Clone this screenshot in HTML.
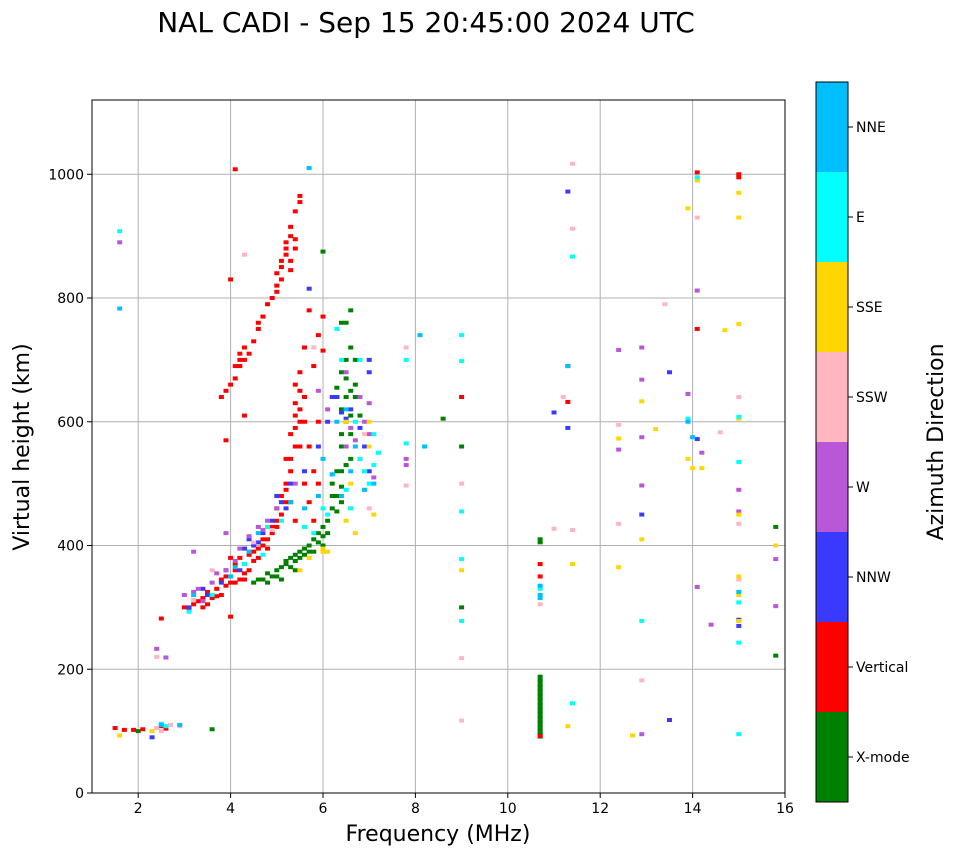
<!DOCTYPE html>
<html><head><meta charset="utf-8"><style>
body{margin:0;background:#fff;}
svg{font-family:"DejaVu Sans","Liberation Sans",sans-serif;}
</style></head><body>
<svg id="c" width="958" height="857" viewBox="0 0 958 857">
<text x="426" y="32" font-size="28" text-anchor="middle">NAL CADI - Sep 15 20:45:00 2024 UTC</text>
<g id="grid"></g>
<g id="marks"></g>
<rect x="92" y="100" width="693" height="693" fill="none" stroke="#000" stroke-width="1"/>
<g id="axes"></g>
<text x="438" y="841" font-size="22" text-anchor="middle">Frequency (MHz)</text>
<text transform="translate(29,447) rotate(-90)" font-size="22" text-anchor="middle">Virtual height (km)</text>
<g id="cbar"></g>
<text transform="translate(943,442) rotate(-90)" font-size="22" text-anchor="middle">Azimuth Direction</text>
</svg>
<script>
const xTicks=[2,4,6,8,10,12,14,16];
const yTicks=[0,200,400,600,800,1000];
const dirNames=["X-mode","Vertical","NNW","W","SSW","SSE","E","NNE"];
const dirColors=["#008000","#ff0000","#3a3aff","#b857d8","#ffb6c1","#ffd700","#00ffff","#00bfff"];
const xmode=[[4.5,340],[4.7,345],[4.9,350],[5.0,360],[5.2,370],[5.3,380],[5.4,385],[5.5,390],[5.6,395],[5.7,400],[5.8,410],[5.9,420],[6.0,430],[6.1,440],[6.2,460],[6.3,480],[6.4,520],[6.4,560],[6.5,600],[6.5,640],[6.6,650],[6.7,700],[6.6,780],[6.4,760],[6.2,500],[6.4,580],[6.8,610],[6.3,640],[3.6,103],[5.4,360],[5.0,350],[5.8,390],[6.0,875],[8.6,605],[9.0,560],[9.0,300],[10.7,410],[10.7,180],[10.7,172],[10.7,165],[10.7,158],[10.7,150],[10.7,143],[10.7,136],[10.7,129],[10.7,122],[10.7,115],[10.7,108],[10.7,101],[10.7,96],[10.7,188],[15.8,430],[15.8,222],[2.0,100],[4.8,355],[5.1,365],[6.5,670],[6.6,720],[6.3,655],[6.5,760],[6.7,640],[6.2,480],[6.4,470],[4.6,345],[4.8,340],[5.2,375],[5.3,365],[5.5,380],[5.6,385],[5.7,390],[5.9,405],[6.0,415],[6.1,420],[6.3,455],[6.4,495],[6.5,530],[6.6,580],[6.6,610],[6.4,680],[6.5,700],[6.3,520],[6.6,540],[5.1,345],[5.4,375],[6.0,400],[6.7,660],[6.4,620]];
const vertical=[[1.5,105],[1.7,102],[1.9,102],[2.1,103],[2.5,108],[2.6,104],[2.5,282],[3.0,300],[3.2,305],[3.4,300],[3.6,315],[3.8,320],[3.9,335],[4.0,350],[4.1,360],[4.0,380],[4.2,345],[4.3,370],[4.4,385],[4.5,375],[4.6,395],[4.8,410],[4.9,420],[5.0,430],[5.1,450],[5.2,470],[5.2,500],[5.3,520],[5.4,560],[5.4,590],[5.5,620],[5.5,650],[5.6,600],[5.7,560],[5.6,720],[5.7,780],[5.8,690],[5.9,600],[5.8,520],[6.0,770],[6.0,715],[5.9,740],[3.8,640],[3.9,650],[4.0,660],[4.2,690],[4.3,700],[4.4,710],[4.5,730],[4.7,770],[4.9,800],[5.0,820],[5.1,850],[5.2,870],[5.2,890],[5.3,900],[5.4,940],[5.5,965],[5.3,915],[4.0,830],[4.1,1008],[4.3,610],[3.9,570],[4.0,285],[9.0,640],[10.7,350],[10.7,370],[10.7,92],[11.3,632],[14.1,1003],[14.1,750],[15.0,1000],[15.0,995],[5.1,860],[5.0,840],[4.6,750],[3.5,305],[3.7,330],[4.1,340],[4.3,355],[4.7,400],[5.0,440],[5.2,540],[5.3,580],[5.5,680],[5.4,630],[5.7,470],[5.8,440],[5.9,500],[4.1,670],[4.2,700],[5.3,860],[5.4,880],[5.0,810],[3.1,295],[3.3,310],[3.5,325],[3.7,318],[3.8,345],[4.0,340],[4.1,370],[4.2,380],[4.3,345],[4.4,360],[4.5,390],[4.6,380],[4.7,410],[4.8,395],[4.9,430],[5.0,460],[5.1,480],[5.2,490],[5.3,540],[5.4,610],[5.4,660],[5.5,600],[5.5,560],[5.6,640],[5.6,500],[5.3,470],[5.4,440],[4.1,690],[4.2,710],[4.3,720],[4.6,760],[4.8,790],[5.1,830],[5.2,880],[5.3,845],[5.4,895],[5.5,955],[3.4,315],[3.9,350]];
const nnw=[[2.3,90],[3.1,300],[3.5,320],[3.8,340],[4.2,360],[4.5,400],[4.7,420],[4.9,440],[5.1,470],[5.3,500],[5.6,520],[5.9,560],[6.1,600],[6.3,640],[6.6,620],[7.0,700],[7.0,680],[5.7,815],[6.2,640],[11.3,972],[11.3,590],[11.3,690],[11.0,615],[12.9,450],[13.5,680],[13.5,118],[14.1,572],[15.0,280],[15.0,270],[6.9,560],[7.0,520],[4.4,410],[5.0,480],[4.3,395],[4.6,405],[4.8,430],[5.2,460],[6.5,605],[6.8,590],[6.4,615],[3.4,330],[3.9,360]];
const west=[[3.0,320],[3.3,330],[3.6,340],[3.9,360],[4.2,395],[4.6,430],[4.8,440],[5.0,460],[5.4,500],[6.5,560],[6.7,570],[6.8,640],[6.9,600],[7.0,580],[7.8,530],[7.8,540],[12.4,555],[12.9,720],[12.9,668],[12.9,575],[12.9,497],[12.9,95],[13.9,645],[14.1,812],[14.1,333],[14.2,550],[14.4,272],[15.0,490],[15.0,455],[15.8,378],[15.8,302],[12.4,716],[3.4,310],[6.1,620],[5.9,650],[6.5,680],[7.1,510],[7.0,630],[2.4,233],[2.6,219],[3.2,390],[3.9,420],[1.6,890],[4.4,415],[4.7,425],[3.7,355],[4.1,375],[3.2,325],[6.8,540],[6.6,590]];
const ssw=[[2.4,105],[2.7,110],[2.9,108],[3.2,312],[3.6,360],[4.3,870],[5.8,720],[7.8,720],[7.8,497],[9.0,500],[9.0,218],[9.0,117],[10.7,305],[11.0,427],[11.2,640],[11.4,912],[11.4,1017],[11.4,425],[12.4,435],[12.4,595],[12.9,182],[13.4,790],[14.1,930],[14.6,583],[15.0,640],[15.0,435],[15.0,345],[2.4,220],[6.9,580],[4.9,425],[7.0,460],[2.5,100],[4.5,405]];
const sse=[[1.6,93],[2.3,100],[5.5,360],[6.0,395],[6.1,390],[6.7,420],[6.6,460],[6.9,490],[7.0,600],[7.1,450],[9.0,360],[11.4,370],[11.3,108],[12.4,573],[12.4,365],[12.9,633],[12.9,410],[13.2,588],[12.7,93],[13.9,945],[13.9,540],[14.0,525],[14.2,525],[14.1,990],[14.7,748],[15.0,970],[15.0,930],[15.0,758],[15.0,605],[15.0,450],[15.0,350],[15.0,320],[15.0,278],[15.8,400],[5.7,380],[6.5,440],[6.5,600],[6.6,500],[7.0,560],[6.0,390],[6.9,520]];
const east=[[2.5,112],[2.6,108],[3.1,293],[3.6,320],[4.3,370],[4.7,385],[4.8,430],[5.1,440],[5.6,430],[6.0,460],[6.2,515],[6.5,490],[6.6,460],[6.8,540],[6.9,520],[7.1,580],[7.2,550],[6.8,700],[7.8,700],[7.8,565],[9.0,740],[9.0,698],[9.0,455],[9.0,378],[9.0,278],[10.7,330],[11.4,867],[11.4,145],[12.9,278],[13.9,605],[15.0,608],[15.0,535],[15.0,308],[15.0,243],[15.0,95],[14.1,995],[1.6,908],[6.4,700],[6.3,750],[5.8,420],[6.1,450],[7.0,500],[7.1,530],[6.7,600]];
const nne=[[1.6,783],[2.5,110],[2.9,110],[3.2,320],[4.0,350],[4.6,420],[5.3,470],[5.7,1010],[6.2,515],[6.3,600],[6.5,620],[6.7,560],[6.9,490],[7.1,500],[8.1,740],[8.2,560],[10.7,315],[10.7,335],[10.7,320],[11.3,690],[13.9,600],[14.0,575],[15.0,325],[6.0,540],[5.9,480],[4.1,365],[4.4,390],[6.4,480],[6.6,520],[5.6,460]];
const series=[xmode,vertical,nnw,west,ssw,sse,east,nne];

const NS="http://www.w3.org/2000/svg";
const X0=92,X1=785,Y0=793,Y1=100,XMIN=1,XMAX=16,YMIN=0,YMAX=1120;
const xs=v=>X0+(v-XMIN)/(XMAX-XMIN)*(X1-X0);
const ys=v=>Y0-(v-YMIN)/(YMAX-YMIN)*(Y0-Y1);
function mk(tag,attrs,parent){const e=document.createElementNS(NS,tag);for(const k in attrs)e.setAttribute(k,attrs[k]);parent.appendChild(e);return e;}
const grid=document.getElementById('grid'),axes=document.getElementById('axes'),marks=document.getElementById('marks'),cbar=document.getElementById('cbar');
xTicks.forEach(t=>{
  const g=mk('line',{x1:xs(t),x2:xs(t),y1:Y1,y2:Y0,stroke:'#b0b0b0','stroke-width':1},grid);
  
  
  mk('line',{x1:xs(t),x2:xs(t),y1:Y0,y2:Y0+5,stroke:'#000'},axes);
  const tx=mk('text',{x:xs(t),y:Y0+20,'font-size':14,'text-anchor':'middle'},axes);
  tx.textContent=t;
  
  
});
yTicks.forEach(t=>{
  const g=mk('line',{x1:X0,x2:X1,y1:ys(t),y2:ys(t),stroke:'#b0b0b0','stroke-width':1},grid);
  
  
  mk('line',{x1:X0-5,x2:X0,y1:ys(t),y2:ys(t),stroke:'#000'},axes);
  const tx=mk('text',{x:X0-8,y:ys(t)+5,'font-size':14,'text-anchor':'end'},axes);
  tx.textContent=t;
  
  
});
series.forEach((arr,i)=>{
  arr.forEach(p=>{
    const r=mk('rect',{x:xs(p[0])-2.5,y:ys(p[1])-2,width:5,height:(i==0&&p[0]==10.7)?7:4,fill:dirColors[i]},marks);
    
    
  });
});
const CB0=802,CBH=90;
dirNames.forEach((n,i)=>{
  const y=CB0-(i+1)*CBH;
  const r=mk('rect',{x:816,y:y,width:32,height:CBH,fill:dirColors[i]},cbar);
  
  
  mk('line',{x1:848,x2:853,y1:y+CBH/2,y2:y+CBH/2,stroke:'#000'},cbar);
  const t=mk('text',{x:856,y:y+CBH/2+5,'font-size':14},cbar);
  t.textContent=n;
  
  
});
mk('rect',{x:816,y:82,width:32,height:720,fill:'none',stroke:'#000'},cbar);
</script>
</body></html>
